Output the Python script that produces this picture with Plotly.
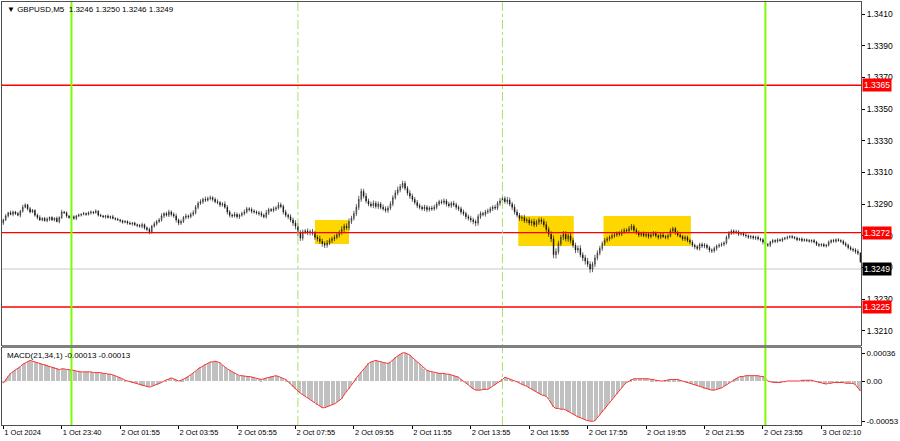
import plotly.graph_objects as go

# ---------------- data ----------------
title_text = "\u25bc GBPUSD,M5\u00a0\u00a01.3246 1.3250 1.3246 1.3249"
macd_title = "MACD(21,34,1) -0.00013 -0.00013"

first_open = 1.32780
close = [
    1.32800, 1.32825, 1.32845, 1.32835, 1.32850, 1.32840, 1.32830, 1.32855, 1.32880, 1.32895,
    1.32870, 1.32850, 1.32860, 1.32830, 1.32815, 1.32800, 1.32810, 1.32795, 1.32805, 1.32815,
    1.32800, 1.32810, 1.32790, 1.32815, 1.32850, 1.32845, 1.32825, 1.32815, 1.32820, 1.32810,
    1.32825, 1.32830, 1.32835, 1.32840, 1.32835, 1.32845, 1.32850, 1.32845, 1.32855, 1.32830,
    1.32825, 1.32820, 1.32825, 1.32815, 1.32820, 1.32810, 1.32805, 1.32800, 1.32795, 1.32785,
    1.32790, 1.32780, 1.32775, 1.32780, 1.32770, 1.32765, 1.32760, 1.32770, 1.32750, 1.32740,
    1.32725, 1.32760, 1.32775, 1.32790, 1.32800, 1.32825, 1.32840, 1.32830, 1.32850, 1.32835,
    1.32825, 1.32800, 1.32780, 1.32790, 1.32815, 1.32825, 1.32820, 1.32835, 1.32845, 1.32880,
    1.32905, 1.32915, 1.32930, 1.32925, 1.32935, 1.32940, 1.32930, 1.32915, 1.32910, 1.32895,
    1.32900, 1.32880, 1.32850, 1.32830, 1.32825, 1.32835, 1.32820, 1.32830, 1.32840, 1.32850,
    1.32870, 1.32865, 1.32855, 1.32850, 1.32845, 1.32840, 1.32830, 1.32820, 1.32845, 1.32865,
    1.32860, 1.32870, 1.32875, 1.32895, 1.32885, 1.32850, 1.32830, 1.32820, 1.32800, 1.32780,
    1.32760, 1.32720, 1.32685, 1.32725, 1.32730, 1.32720, 1.32725, 1.32715, 1.32690, 1.32680,
    1.32665, 1.32650, 1.32640, 1.32655, 1.32670, 1.32680, 1.32690, 1.32705, 1.32720, 1.32740,
    1.32760, 1.32750, 1.32790, 1.32810, 1.32840, 1.32880, 1.32930, 1.32980, 1.32950, 1.32920,
    1.32900, 1.32890, 1.32905, 1.32885, 1.32900, 1.32880, 1.32870, 1.32860, 1.32875, 1.32900,
    1.32940, 1.32970, 1.32990, 1.33010, 1.33030, 1.33000, 1.32970, 1.32950, 1.32930, 1.32910,
    1.32890, 1.32880, 1.32870, 1.32880, 1.32865, 1.32875, 1.32870, 1.32880, 1.32900, 1.32915,
    1.32910, 1.32920, 1.32900, 1.32890, 1.32905, 1.32895, 1.32880, 1.32870, 1.32850, 1.32840,
    1.32820, 1.32810, 1.32800, 1.32790, 1.32780, 1.32820, 1.32840, 1.32835, 1.32850, 1.32855,
    1.32870, 1.32880, 1.32875, 1.32905, 1.32920, 1.32935, 1.32915, 1.32925, 1.32900, 1.32880,
    1.32850, 1.32830, 1.32810, 1.32815, 1.32795, 1.32800, 1.32780, 1.32790, 1.32770, 1.32785,
    1.32800, 1.32790, 1.32770, 1.32740, 1.32710, 1.32680, 1.32580, 1.32600, 1.32650, 1.32690,
    1.32710, 1.32680, 1.32700, 1.32670, 1.32640, 1.32610, 1.32620, 1.32580, 1.32560, 1.32540,
    1.32520, 1.32490, 1.32520, 1.32560, 1.32590, 1.32620, 1.32650, 1.32670, 1.32680, 1.32690,
    1.32700, 1.32705, 1.32715, 1.32710, 1.32725, 1.32735, 1.32730, 1.32745, 1.32760, 1.32735,
    1.32720, 1.32705, 1.32715, 1.32700, 1.32710, 1.32695, 1.32705, 1.32715, 1.32700, 1.32690,
    1.32705, 1.32695, 1.32690, 1.32700, 1.32730, 1.32745, 1.32720, 1.32705, 1.32695, 1.32680,
    1.32690, 1.32670, 1.32660, 1.32640, 1.32630, 1.32620, 1.32645, 1.32635, 1.32640, 1.32625,
    1.32610, 1.32605, 1.32620, 1.32635, 1.32640, 1.32645, 1.32655, 1.32690, 1.32715, 1.32730,
    1.32720, 1.32725, 1.32710, 1.32715, 1.32705, 1.32700, 1.32690, 1.32695, 1.32685, 1.32690,
    1.32680, 1.32675, 1.32660, 1.32645, 1.32640, 1.32660, 1.32670, 1.32665, 1.32675, 1.32670,
    1.32680, 1.32685, 1.32690, 1.32695, 1.32690, 1.32685, 1.32675, 1.32680, 1.32670, 1.32675,
    1.32670, 1.32665, 1.32670, 1.32660, 1.32645, 1.32640, 1.32645, 1.32635, 1.32640, 1.32660,
    1.32670, 1.32665, 1.32675, 1.32670, 1.32665, 1.32650, 1.32640, 1.32625, 1.32615, 1.32610,
    1.32600, 1.32590, 1.32535,
]

# wick lengths above / below the candle body, in points (0.00001)
up_wick = [
    8,12,6,14,9,7,11,8,16,10,6,12,9,7,10,14,6,9,12,7,
    9,6,11,8,14,7,9,6,12,9,7,10,6,11,7,9,10,6,12,7,
    9,7,6,10,7,12,6,9,7,6,9,7,11,6,9,7,10,12,7,9,
    12,9,14,10,12,16,9,12,14,10,12,15,9,12,10,14,9,12,16,14,
    12,15,10,17,12,14,10,12,15,9,12,17,14,12,10,15,12,10,12,16,
    12,10,14,12,10,12,15,10,17,12,10,14,12,17,15,12,14,10,16,14,
    18,20,16,14,12,16,14,18,16,14,20,16,14,18,16,14,16,18,14,20,
    16,18,20,16,18,20,22,18,16,20,14,16,18,14,16,14,18,16,14,18,
    16,18,20,16,18,16,14,18,16,14,16,14,12,16,14,12,14,16,14,12,
    14,16,12,14,12,16,14,12,14,16,12,14,16,14,12,16,14,12,14,16,
    14,12,16,14,18,16,14,20,16,14,18,16,14,16,18,14,16,14,18,16,
    14,16,18,20,16,18,22,20,18,16,20,18,16,20,18,16,18,20,16,18,
    20,18,16,20,18,16,14,16,14,12,14,16,12,14,16,14,12,16,14,12,
    14,12,10,12,14,10,12,14,12,10,12,14,10,12,16,12,10,12,14,10,
    12,10,12,14,10,12,10,12,14,10,12,10,12,10,12,14,10,12,14,10,
    10,12,10,8,10,12,8,10,8,10,12,8,10,12,10,8,10,8,10,8,
    10,8,10,8,10,8,10,8,10,8,8,10,8,10,8,10,8,10,8,10,
    8,10,8,10,8,10,12,10,12,10,12,14,6,
]
dn_wick = [
    12,7,10,6,12,9,7,14,9,7,12,9,6,10,12,7,9,6,10,12,
    7,10,6,12,9,7,12,9,6,10,12,7,9,6,10,7,12,9,6,9,
    7,9,12,6,10,7,9,6,12,9,7,10,7,12,9,12,9,14,12,12,
    16,12,9,12,10,12,14,10,12,14,12,16,14,12,10,12,14,10,12,10,
    12,10,14,12,10,12,14,10,12,14,12,10,16,14,12,10,12,14,10,12,
    10,12,14,10,12,14,12,10,12,14,10,12,14,10,12,16,14,16,14,18,
    20,22,18,16,14,16,18,14,16,18,16,20,18,16,14,16,14,12,16,14,
    16,14,18,16,14,16,18,16,14,16,14,12,16,14,16,14,12,14,16,14,
    14,12,14,16,12,14,16,18,16,14,16,14,12,14,16,12,14,12,14,12,
    12,14,16,12,14,12,16,14,16,14,16,14,16,18,20,16,14,12,14,12,
    12,14,12,14,16,14,12,16,14,18,16,14,16,18,14,16,14,18,16,14,
    16,18,16,20,18,20,22,24,18,16,18,16,20,18,16,20,18,16,20,22,
    18,24,20,18,16,14,16,14,12,14,12,14,12,14,12,14,12,14,12,14,
    12,14,12,10,12,14,12,10,12,14,12,10,12,14,10,12,14,12,10,12,
    14,12,14,12,14,12,14,12,14,12,16,14,12,14,12,10,12,10,12,10,
    12,10,12,10,10,12,10,12,10,12,10,12,14,12,10,12,10,12,10,8,
    10,8,10,8,10,8,10,8,10,8,10,8,10,8,10,12,10,8,10,8,
    10,8,10,8,10,8,10,12,10,12,14,12,7,
]

# MACD(21,34,1) main value per bar, in units of 0.00001
macd_pts = [
    -3,2,6,10,12,15,17,19,22,24,26,27,26,25,24,23,22,22,21,20,
    19,18,17,15,16,16,15,15,14,14,13,12,12,12,12,12,12,11,11,11,
    11,10,10,9,9,8,7,5,4,3,1,0,-1,-2,-3,-4,-5,-6,-7,-8,
    -8,-7,-6,-5,-4,-2,0,1,3,4,3,1,0,1,2,4,6,8,10,13,
    16,18,20,22,24,25,25,26,25,24,21,18,16,14,12,10,8,7,7,6,
    6,6,5,4,3,3,2,3,4,5,6,7,7,6,5,3,2,-1,-4,-8,
    -11,-14,-16,-18,-20,-22,-24,-26,-28,-31,-33,-35,-35,-34,-33,-32,-30,-28,-26,-23,
    -18,-14,-10,-5,-1,4,8,12,16,20,23,25,26,27,26,25,24,23,23,25,
    28,31,33,35,37,37,36,34,31,28,25,22,19,16,14,13,12,11,11,10,
    10,10,9,9,8,7,6,5,2,0,-3,-5,-8,-10,-12,-12,-12,-11,-11,-11,
    -9,-7,-5,-3,-1,2,5,4,3,1,0,-1,-3,-4,-5,-7,-9,-11,-13,-15,
    -17,-18,-19,-20,-24,-29,-34,-36,-36,-37,-37,-38,-40,-41,-43,-45,-47,-48,-50,-51,
    -52,-53,-53,-52,-48,-44,-41,-37,-33,-29,-25,-21,-17,-13,-9,-5,-2,0,2,3,
    3,3,3,3,3,3,2,2,1,0,0,0,1,1,2,2,2,2,1,0,
    -1,-2,-3,-4,-5,-6,-7,-8,-10,-11,-12,-12,-12,-11,-11,-9,-7,-5,-2,0,
    2,4,5,6,6,7,7,7,7,7,7,6,6,3,0,-1,-2,-2,-2,-2,
    -1,-1,0,0,0,0,0,0,1,1,1,1,1,0,-1,-2,-3,-4,-4,-3,
    -3,-2,-2,-2,-2,-2,-3,-3,-3,-3,-5,-9,-13,
]

time_labels = ["1 Oct 2024", "1 Oct 23:40", "2 Oct 01:55", "2 Oct 03:55", "2 Oct 05:55",
               "2 Oct 07:55", "2 Oct 09:55", "2 Oct 11:55", "2 Oct 13:55", "2 Oct 15:55",
               "2 Oct 17:55", "2 Oct 19:55", "2 Oct 21:55", "2 Oct 23:55", "3 Oct 02:10"]
label_bars = [0, 24, 48, 72, 96, 120, 144, 168, 192, 216, 240, 264, 288, 312, 336]

price_ticks = [1.3210, 1.3230, 1.3250, 1.3270, 1.3290, 1.3310, 1.3330, 1.3350, 1.3370, 1.3390, 1.3410]
macd_ticks = [0.00036, 0.0, -0.00053]
macd_tick_text = ["0.00036", "0.00", "-0.00053"]

levels = [1.3365, 1.3272, 1.3225]
bid_price = 1.3249
day_start_bars = [28, 313]
session_bars = [121, 205]
zone_start = [128.0, 211.5, 246.5]
zone_end = [142.0, 234.3, 282.4]
zone_top = [1.32800, 1.32825, 1.32825]
zone_bottom = [1.32648, 1.32635, 1.32635]

# ---------------- derived ----------------
n = len(close)
idx = list(range(n))
opens = [first_open] + close[:-1]
highs = [max(o, c) + w * 1e-5 for o, c, w in zip(opens, close, up_wick)]
lows = [min(o, c) - w * 1e-5 for o, c, w in zip(opens, close, dn_wick)]
macd = [v * 1e-5 for v in macd_pts]

FONT = "Liberation Sans"
x_range = [-0.53, 352.27]
main_dom = [0.18913, 1.0]
macd_dom = [0.0, 0.18203]

fig = go.Figure()
fig.add_trace(go.Candlestick(
    x=idx, open=opens, high=highs, low=lows, close=close,
    increasing=dict(line=dict(color="#000000", width=0.6), fillcolor="#FFFFFF"),
    decreasing=dict(line=dict(color="#000000", width=0.6), fillcolor="#000000"),
    whiskerwidth=0, xaxis="x", yaxis="y", hoverinfo="skip", showlegend=False))
fig.add_trace(go.Bar(
    x=idx, y=macd, width=0.5, marker=dict(color="#C0C0C0", line=dict(width=0)),
    xaxis="x2", yaxis="y2", hoverinfo="skip", showlegend=False))
fig.add_trace(go.Scatter(
    x=idx, y=macd, mode="lines", line=dict(color="#FF3030", width=1),
    xaxis="x2", yaxis="y2", hoverinfo="skip", showlegend=False))

shapes = []
for s, e, t, b in zip(zone_start, zone_end, zone_top, zone_bottom):
    shapes.append(dict(type="rect", xref="x", yref="y", x0=s, x1=e, y0=b, y1=t,
                       fillcolor="#FFD700", line=dict(width=0), layer="below"))
shapes.append(dict(type="line", xref="paper", yref="y", x0=0, x1=1, y0=bid_price, y1=bid_price,
                   line=dict(color="#C8C8C8", width=1), layer="below"))
for lv in levels:
    shapes.append(dict(type="line", xref="paper", yref="y", x0=0, x1=1, y0=lv, y1=lv,
                       line=dict(color="#FF0000", width=1.3), layer="above"))
for b in session_bars:
    shapes.append(dict(type="line", xref="x", yref="paper", x0=b, x1=b, y0=0, y1=1,
                       line=dict(color="#A8E070", width=1, dash="dashdot"), layer="above"))
for b in day_start_bars:
    shapes.append(dict(type="line", xref="x", yref="paper", x0=b, x1=b, y0=0, y1=1,
                       line=dict(color="#7CFC00", width=2), layer="above"))
shapes.append(dict(type="rect", xref="paper", yref="paper", x0=0, x1=1,
                   y0=macd_dom[1], y1=main_dom[0], fillcolor="#808080",
                   line=dict(width=0), layer="above"))

annotations = []
for lv in levels:
    annotations.append(dict(xref="paper", yref="y", x=1, y=lv, xanchor="left", yanchor="middle",
                            xshift=1, text=f"{lv:.4f}", showarrow=False, bgcolor="#FF0000",
                            borderpad=1, font=dict(family=FONT, size=8.5, color="#FFFFFF")))
annotations.append(dict(xref="paper", yref="y", x=1, y=bid_price, xanchor="left", yanchor="middle",
                        xshift=1, text=f"{bid_price:.4f}", showarrow=False, bgcolor="#000000",
                        borderpad=1, font=dict(family=FONT, size=8.5, color="#FFFFFF")))
annotations.append(dict(xref="paper", yref="paper", x=0, y=1, xanchor="left", yanchor="top",
                        xshift=3, yshift=-1, text=title_text, showarrow=False,
                        font=dict(family=FONT, size=8, color="#000000")))
annotations.append(dict(xref="paper", yref="paper", x=0, y=macd_dom[1], xanchor="left", yanchor="top",
                        xshift=3, yshift=-1, text=macd_title, showarrow=False,
                        font=dict(family=FONT, size=8, color="#000000")))

axis_common = dict(showgrid=False, zeroline=False, showline=True, mirror=True,
                   linecolor="#505050", linewidth=1)
tick_font = dict(family=FONT, size=8.5, color="#000000")
xtick_font = dict(family=FONT, size=7.5, color="#000000")

fig.update_layout(
    width=900, height=441,
    margin=dict(l=1, r=35, t=2, b=16, pad=0),
    paper_bgcolor="#FFFFFF", plot_bgcolor="#FFFFFF",
    showlegend=False, bargap=0, boxgap=0.6,
    xaxis=dict(domain=[0, 1], anchor="y", range=x_range, showticklabels=False, ticks="",
               rangeslider=dict(visible=False), **axis_common),
    yaxis=dict(domain=main_dom, anchor="x", range=[1.320101, 1.341758], side="right",
               tickvals=price_ticks, ticktext=[f"{p:.4f}" for p in price_ticks],
               ticks="outside", ticklen=3, tickcolor="#000000", tickfont=tick_font, **axis_common),
    xaxis2=dict(domain=[0, 1], anchor="y2", range=x_range, tickvals=label_bars, ticktext=time_labels,
                ticks="outside", ticklen=3, tickcolor="#000000", ticklabelposition="outside right",
                tickfont=xtick_font, **axis_common),
    yaxis2=dict(domain=macd_dom, anchor="x2", range=[-0.000577, 0.000433], side="right",
                tickvals=macd_ticks, ticktext=macd_tick_text, ticks="outside", ticklen=3,
                tickcolor="#000000", tickfont=dict(family=FONT, size=8, color="#000000"),
                **axis_common),
    shapes=shapes, annotations=annotations,
)

fig.write_html("out.html", config={"displayModeBar": False},
               post_script="document.body.style.margin='0';document.body.style.padding='0';")
